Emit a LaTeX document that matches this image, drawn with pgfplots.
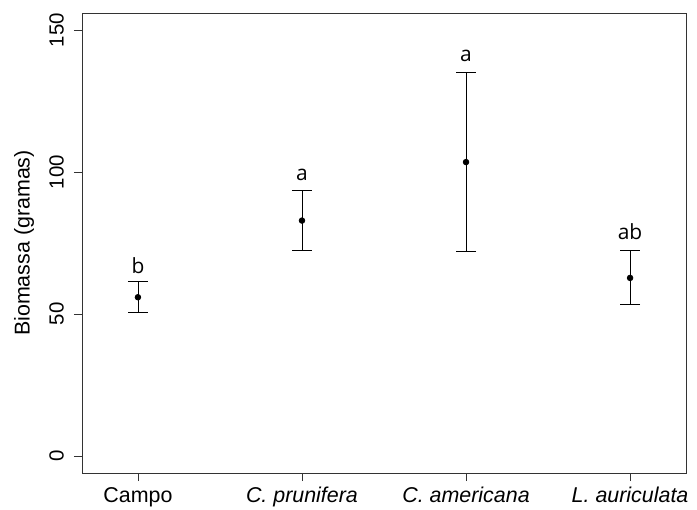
\documentclass[border=0pt]{standalone}
\usepackage{pgfplots}
\pgfplotsset{compat=1.18}
\usepackage{fontspec}
\setmainfont{Liberation Sans}
\newfontfamily\letterfont{Open Sans}
\begin{document}
\begin{tikzpicture}
\path[use as bounding box] (-82bp,-37bp) rectangle (615bp,473bp);
\begin{axis}[
  scale only axis,
  width=604bp, height=460bp,
  anchor=south west, at={(0,0)},
  xmin=0.659, xmax=4.341,
  ymin=-6, ymax=156,
  axis line style={line width=0.8bp, black!80},
  xtick={1,2,3,4},
  xticklabels={Campo, \textit{C. prunifera}, \textit{C. americana}, \textit{L. auriculata}},
  ytick={0,50,100,150},
  yticklabels={{\fontsize{20.5}{24}\selectfont 0},{\fontsize{20.5}{24}\selectfont 50},{\fontsize{20.5}{24}\selectfont 100},{\fontsize{20.5}{24}\selectfont 150}},
  tick align=outside,
  xtick pos=bottom, ytick pos=left,
  major tick length=8bp,
  tick style={line width=0.8bp, black!80},
  xticklabel style={font=\fontsize{21.5}{24}\selectfont, anchor=north, inner sep=0pt, yshift=-6bp},
  yticklabel style={rotate=90, anchor=south, inner sep=0pt},
  yticklabel shift=10bp,
  ylabel={Biomassa (gramas)},
  ylabel style={font=\fontsize{21.5}{24}\selectfont, inner sep=0pt},
  ylabel shift=15bp,
  clip=false,
]
\addplot[black, line width=0.8bp, mark=*, mark size=2.8bp, only marks,
  error bars/.cd, y dir=both, y explicit,
  error bar style={line width=0.8bp, black},
  error mark options={rotate=90, mark size=10bp, line width=0.8bp, black}]
  table[x=x, y=y, y error plus=ep, y error minus=em] {
x y ep em
1 55.9 5.5 5.3
2 82.9 10.7 10.4
3 103.5 31.6 31.3
4 62.7 9.7 9.3
};
\node[font=\letterfont\fontsize{21}{24}\selectfont] at (axis cs:1,66.9) {b};
\node[font=\letterfont\fontsize{21}{24}\selectfont] at (axis cs:2,99.0) {a};
\node[font=\letterfont\fontsize{21}{24}\selectfont] at (axis cs:3,140.8) {a};
\node[font=\letterfont\fontsize{21}{24}\selectfont] at (axis cs:4,79.0) {ab};
\end{axis}
\end{tikzpicture}
\end{document}
